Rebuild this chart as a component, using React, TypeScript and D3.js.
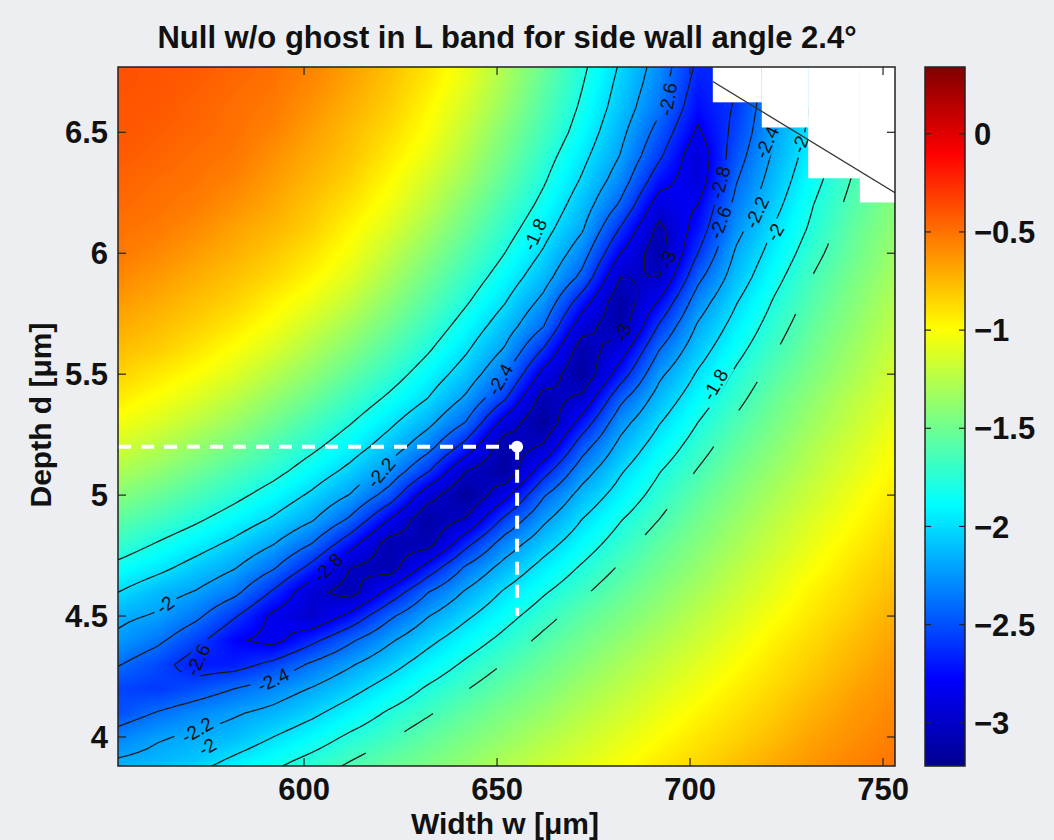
import React, { useMemo } from "react";
import * as d3 from "d3";

// ---------------- axes ----------------
const xDomain = [551.8, 753.1];
const yDomain = [3.88, 6.77];
const xTicks = [600, 650, 700, 750];
const yTicks = [4, 4.5, 5, 5.5, 6, 6.5];
const colorDomain = [-3.22, 0.34];
const colorTicks = [0, -0.5, -1, -1.5, -2, -2.5, -3];
const contourLevels = [-3, -2.8, -2.6, -2.4, -2.2, -2.0, -1.8];
const dashedLevel = -1.65;

// ---------------- data grid (null depth, log scale) ----------------
const widthValues = [552, 562, 572, 582, 592, 602, 612, 622, 632, 642, 652, 662, 672, 682, 692, 702, 712, 722, 732, 742, 752];
const depthValues = [6.8, 6.7, 6.6, 6.5, 6.4, 6.3, 6.2, 6.1, 6.0, 5.9, 5.8, 5.7, 5.6, 5.5, 5.4, 5.3, 5.2, 5.1, 5.0, 4.9, 4.8, 4.7, 4.6, 4.5, 4.4, 4.3, 4.2, 4.1, 4.0, 3.9, 3.8];
const nullGrid = [
  [-0.39, -0.40, -0.41, -0.45, -0.49, -0.55, -0.65, -0.76, -0.89, -1.05, -1.27, -1.51, -1.75, -2.01, -2.27, -2.62, -2.66, -2.28, -2.04, -1.79, -1.58],
  [-0.39, -0.40, -0.43, -0.47, -0.51, -0.58, -0.68, -0.79, -0.92, -1.09, -1.31, -1.55, -1.79, -2.05, -2.31, -2.68, -2.61, -2.25, -2.00, -1.76, -1.55],
  [-0.40, -0.41, -0.45, -0.49, -0.53, -0.62, -0.72, -0.82, -0.97, -1.15, -1.36, -1.60, -1.83, -2.09, -2.37, -2.74, -2.58, -2.23, -1.97, -1.73, -1.53],
  [-0.40, -0.43, -0.46, -0.50, -0.56, -0.66, -0.76, -0.87, -1.01, -1.21, -1.43, -1.65, -1.88, -2.15, -2.47, -2.83, -2.54, -2.20, -1.94, -1.70, -1.51],
  [-0.42, -0.45, -0.49, -0.52, -0.61, -0.70, -0.79, -0.92, -1.07, -1.27, -1.49, -1.72, -1.95, -2.21, -2.57, -2.94, -2.48, -2.16, -1.90, -1.68, -1.49],
  [-0.45, -0.48, -0.51, -0.56, -0.65, -0.74, -0.84, -0.98, -1.15, -1.34, -1.56, -1.78, -2.02, -2.30, -2.72, -2.92, -2.41, -2.11, -1.85, -1.64, -1.46],
  [-0.47, -0.50, -0.54, -0.61, -0.69, -0.79, -0.90, -1.04, -1.22, -1.43, -1.64, -1.85, -2.10, -2.43, -2.90, -2.80, -2.34, -2.05, -1.80, -1.60, -1.43],
  [-0.50, -0.53, -0.59, -0.67, -0.74, -0.83, -0.97, -1.12, -1.31, -1.51, -1.72, -1.93, -2.18, -2.62, -3.05, -2.72, -2.26, -1.98, -1.76, -1.55, -1.40],
  [-0.52, -0.58, -0.65, -0.72, -0.80, -0.90, -1.03, -1.21, -1.40, -1.60, -1.80, -2.02, -2.31, -2.80, -3.12, -2.60, -2.17, -1.92, -1.70, -1.52, -1.36],
  [-0.58, -0.64, -0.71, -0.78, -0.86, -0.97, -1.11, -1.30, -1.49, -1.69, -1.89, -2.12, -2.45, -3.00, -3.00, -2.45, -2.10, -1.85, -1.64, -1.47, -1.32],
  [-0.64, -0.70, -0.77, -0.84, -0.95, -1.06, -1.21, -1.39, -1.58, -1.78, -1.99, -2.25, -2.70, -3.14, -2.78, -2.30, -2.01, -1.78, -1.59, -1.43, -1.28],
  [-0.70, -0.76, -0.83, -0.92, -1.03, -1.17, -1.32, -1.49, -1.68, -1.88, -2.10, -2.39, -2.92, -3.12, -2.58, -2.18, -1.93, -1.72, -1.54, -1.39, -1.24],
  [-0.77, -0.82, -0.91, -1.01, -1.13, -1.28, -1.43, -1.60, -1.78, -1.98, -2.22, -2.62, -3.10, -2.90, -2.40, -2.08, -1.85, -1.66, -1.49, -1.34, -1.20],
  [-0.84, -0.92, -1.00, -1.11, -1.25, -1.39, -1.55, -1.71, -1.89, -2.09, -2.37, -2.86, -3.16, -2.70, -2.24, -1.98, -1.77, -1.59, -1.44, -1.30, -1.16],
  [-0.93, -1.01, -1.11, -1.23, -1.37, -1.51, -1.67, -1.83, -2.00, -2.23, -2.58, -3.08, -2.96, -2.45, -2.12, -1.89, -1.70, -1.52, -1.38, -1.24, -1.12],
  [-1.03, -1.12, -1.23, -1.35, -1.49, -1.64, -1.79, -1.96, -2.15, -2.41, -2.88, -3.17, -2.72, -2.27, -2.01, -1.80, -1.62, -1.47, -1.33, -1.20, -1.07],
  [-1.15, -1.25, -1.36, -1.48, -1.62, -1.76, -1.91, -2.09, -2.33, -2.68, -3.12, -2.97, -2.48, -2.14, -1.91, -1.72, -1.55, -1.41, -1.27, -1.15, -1.02],
  [-1.28, -1.38, -1.50, -1.62, -1.74, -1.89, -2.05, -2.26, -2.58, -3.00, -3.16, -2.68, -2.29, -2.02, -1.81, -1.64, -1.48, -1.35, -1.22, -1.10, -0.98],
  [-1.42, -1.52, -1.63, -1.75, -1.88, -2.03, -2.21, -2.48, -2.92, -3.18, -2.86, -2.42, -2.13, -1.92, -1.73, -1.56, -1.42, -1.29, -1.17, -1.05, -0.93],
  [-1.56, -1.66, -1.77, -1.89, -2.02, -2.18, -2.43, -2.80, -3.14, -2.98, -2.56, -2.24, -2.00, -1.81, -1.65, -1.49, -1.36, -1.23, -1.11, -1.00, -0.89],
  [-1.70, -1.81, -1.92, -2.04, -2.19, -2.40, -2.72, -3.08, -3.08, -2.66, -2.31, -2.08, -1.89, -1.72, -1.56, -1.43, -1.30, -1.18, -1.06, -0.95, -0.85],
  [-1.85, -1.95, -2.07, -2.19, -2.38, -2.66, -3.00, -3.10, -2.72, -2.37, -2.13, -1.94, -1.78, -1.63, -1.49, -1.37, -1.24, -1.12, -1.01, -0.90, -0.81],
  [-2.00, -2.12, -2.21, -2.35, -2.62, -2.94, -3.08, -2.74, -2.41, -2.18, -1.98, -1.82, -1.68, -1.54, -1.42, -1.30, -1.18, -1.07, -0.95, -0.86, -0.77],
  [-2.16, -2.22, -2.36, -2.58, -2.84, -2.98, -2.74, -2.44, -2.21, -2.03, -1.86, -1.71, -1.57, -1.46, -1.35, -1.23, -1.12, -1.01, -0.91, -0.82, -0.72],
  [-2.24, -2.36, -2.54, -2.77, -2.86, -2.65, -2.43, -2.23, -2.05, -1.89, -1.75, -1.61, -1.49, -1.38, -1.27, -1.17, -1.06, -0.95, -0.86, -0.77, -0.68],
  [-2.39, -2.52, -2.70, -2.68, -2.55, -2.37, -2.22, -2.07, -1.91, -1.77, -1.64, -1.52, -1.41, -1.30, -1.20, -1.10, -1.00, -0.90, -0.82, -0.73, -0.64],
  [-2.54, -2.58, -2.50, -2.40, -2.30, -2.19, -2.06, -1.92, -1.78, -1.66, -1.54, -1.44, -1.33, -1.23, -1.13, -1.04, -0.94, -0.86, -0.77, -0.68, -0.61],
  [-2.50, -2.39, -2.30, -2.22, -2.15, -2.04, -1.91, -1.78, -1.67, -1.55, -1.45, -1.36, -1.25, -1.16, -1.06, -0.97, -0.89, -0.81, -0.72, -0.64, -0.58],
  [-2.32, -2.22, -2.17, -2.12, -2.00, -1.89, -1.77, -1.67, -1.56, -1.46, -1.37, -1.27, -1.18, -1.09, -1.00, -0.91, -0.84, -0.76, -0.67, -0.61, -0.55],
  [-2.18, -2.14, -2.08, -1.96, -1.85, -1.75, -1.65, -1.55, -1.47, -1.38, -1.28, -1.19, -1.11, -1.02, -0.93, -0.86, -0.78, -0.70, -0.63, -0.57, -0.52],
  [-2.12, -2.02, -1.91, -1.82, -1.72, -1.63, -1.54, -1.46, -1.38, -1.29, -1.21, -1.12, -1.04, -0.95, -0.88, -0.80, -0.73, -0.65, -0.60, -0.54, -0.49],
];

// missing-data (blank) region at top right and limit line
const blankEdgesW = [705.9, 718.6, 730.6, 744.0, 753.1];
const blankBottomD = [6.624, 6.52, 6.31, 6.21];
const limitLineW = [705.9, 753.1];
const limitLineD = [6.71, 6.25];

// marked optimum
const optimumW = 655.2;
const optimumD = 5.2;
const optimumDropTo = 4.5;

// inline contour labels
const labelText = ["-1.8", "-2.6", "-2.4", "-2", "-2.8", "-2.6", "-2.2", "-2", "-2.4", "-1.8", "-2.2", "-2.8", "-2", "-2.6", "-2.4", "-2.2", "-2", "-3", "-3"];
const labelW = [659.8, 694.3, 719.9, 728.5, 707.8, 707.8, 717.3, 722.0, 650.8, 706.5, 619.9, 606.2, 564.0, 572.5, 592.0, 572.3, 574.9, 694.3, 682.6];
const labelD = [6.078, 6.637, 6.459, 6.45, 6.293, 6.127, 6.169, 6.086, 5.478, 5.457, 5.093, 4.70, 4.546, 4.319, 4.236, 4.029, 3.959, 5.974, 5.672];
const labelAngle = [-65, -80, -65, -70, -75, -70, -65, -60, -60, -60, -50, -45, -35, -65, -25, -30, -30, -70, -70];

const M = { left: 118, right: 895, top: 67, bottom: 766 };
const CB = { left: 925, right: 965 };
const FONT = "'Liberation Sans', Arial, Helvetica, sans-serif";
const BG = "#eceef2";

function jet(c: number[]) {
  const stops = [0, 0.125, 0.375, 0.625, 0.875, 1];
  const cols = ["#000090", "#0000ff", "#00ffff", "#ffff00", "#ff0000", "#800000"];
  return d3
    .scaleLinear<string>()
    .domain(stops.map((s) => c[0] + s * (c[1] - c[0])))
    .range(cols)
    .interpolate(d3.interpolateRgb)
    .clamp(true);
}

export default function App() {
  const x = d3.scaleLinear().domain(xDomain).range([M.left, M.right]);
  const y = d3.scaleLinear().domain(yDomain).range([M.bottom, M.top]);
  const yc = d3.scaleLinear().domain(colorDomain).range([M.bottom, M.top]);
  const color = jet(colorDomain);

  const nW = widthValues.length, nD = depthValues.length;
  const stepW = widthValues[1] - widthValues[0];
  const stepD = depthValues[0] - depthValues[1];
  const sample = (w: number, d: number) => {
    let fi = (w - widthValues[0]) / stepW;
    let fj = (depthValues[0] - d) / stepD;
    fi = Math.max(0, Math.min(nW - 1.0001, fi));
    fj = Math.max(0, Math.min(nD - 1.0001, fj));
    const i = Math.floor(fi), j = Math.floor(fj);
    const a = fi - i, b = fj - j;
    return (
      nullGrid[j][i] * (1 - a) * (1 - b) +
      nullGrid[j][i + 1] * a * (1 - b) +
      nullGrid[j + 1][i] * (1 - a) * b +
      nullGrid[j + 1][i + 1] * a * b
    );
  };

  const heat = useMemo(() => {
    const W = M.right - M.left, H = M.bottom - M.top;
    const cv = document.createElement("canvas");
    cv.width = W;
    cv.height = H;
    const ctx = cv.getContext("2d")!;
    const img = ctx.createImageData(W, H);
    const lut: number[][] = [];
    for (let k = 0; k < 512; k++) {
      const c = d3.rgb(color(colorDomain[0] + (k / 511) * (colorDomain[1] - colorDomain[0])));
      lut.push([c.r, c.g, c.b]);
    }
    for (let py = 0; py < H; py++) {
      const d = y.invert(M.top + py + 0.5);
      for (let px = 0; px < W; px++) {
        const w = x.invert(M.left + px + 0.5);
        const v = sample(w, d);
        let k = Math.round(((v - colorDomain[0]) / (colorDomain[1] - colorDomain[0])) * 511);
        k = Math.max(0, Math.min(511, k));
        const o = (py * W + px) * 4;
        img.data[o] = lut[k][0];
        img.data[o + 1] = lut[k][1];
        img.data[o + 2] = lut[k][2];
        img.data[o + 3] = 255;
      }
    }
    ctx.putImageData(img, 0, 0);
    return cv.toDataURL();
  }, []);

  const contourPaths = useMemo(() => {
    const f = 4;
    const dw = stepW / f, dd = stepD / f;
    const nx = (nW - 1) * f + 1, ny = (nD - 1) * f + 1;
    const values = new Array(nx * ny);
    for (let j = 0; j < ny; j++)
      for (let i = 0; i < nx; i++) values[j * nx + i] = sample(widthValues[0] + i * dw, depthValues[0] - j * dd);
    const toPx = (cx: number, cy: number) => [x(widthValues[0] + (cx - 0.5) * dw), y(depthValues[0] - (cy - 0.5) * dd)];
    const proj = d3.geoTransform({
      point(cx: number, cy: number) {
        const p = toPx(cx, cy);
        (this as any).stream.point(p[0], p[1]);
      },
    });
    const path = d3.geoPath(proj);
    const gen = d3.contours().size([nx, ny]);
    const solid = contourLevels.map((lv) => path(gen.contour(values, lv) as any) || "");
    const dc = gen.contour(values, dashedLevel) as any;
    // keep only the lower-right branch of the dashed contour
    const polys = dc.coordinates.filter((poly: number[][][]) => {
      const ring = poly[0];
      const mx = d3.mean(ring, (p) => toPx(p[0], p[1])[0]) || 0;
      return mx > 500;
    });
    const dashed = path({ type: "MultiPolygon", coordinates: polys } as any) || "";
    return { solid, dashed };
  }, []);

  const gradStops = d3.range(0, 1.0001, 1 / 64).map((t) => ({ t, c: color(colorDomain[0] + t * (colorDomain[1] - colorDomain[0])) }));
  const labelBoxW = (s: string) => s.length * 10 + 6;

  return (
    <svg width={1054} height={840} style={{ position: "absolute", left: 0, top: 0, background: BG }} fontFamily={FONT}>
      <defs>
        <clipPath id="plotClip">
          <rect x={M.left} y={M.top} width={M.right - M.left} height={M.bottom - M.top} />
        </clipPath>
        <mask id="labelMask" maskUnits="userSpaceOnUse" x={0} y={0} width={1054} height={840}>
          <rect x={0} y={0} width={1054} height={840} fill="white" />
          {labelText.map((t, i) => (
            <rect
              key={i}
              x={-labelBoxW(t) / 2}
              y={-9}
              width={labelBoxW(t)}
              height={18}
              fill="black"
              transform={`translate(${x(labelW[i])},${y(labelD[i])}) rotate(${labelAngle[i]})`}
            />
          ))}
        </mask>
        <linearGradient id="cbGrad" x1="0" y1="1" x2="0" y2="0">
          {gradStops.map((s, i) => (
            <stop key={i} offset={s.t} stopColor={s.c} />
          ))}
        </linearGradient>
      </defs>
      <rect x={0} y={0} width={1054} height={840} fill={BG} />
      <text x={507} y={48} textAnchor="middle" fontSize={31} fontWeight="bold" fill="#111">
        Null w/o ghost in L band for side wall angle 2.4°
      </text>

      <g clipPath="url(#plotClip)">
        <image href={heat} x={M.left} y={M.top} width={M.right - M.left} height={M.bottom - M.top} preserveAspectRatio="none" />
        <g mask="url(#labelMask)" fill="none" stroke="#1a1a1a" strokeWidth={1.25}>
          {contourPaths.solid.map((p, i) => (
            <path key={i} d={p} />
          ))}
          <path d={contourPaths.dashed} strokeDasharray="34 44" />
        </g>
        {labelText.map((t, i) => (
          <text
            key={i}
            transform={`translate(${x(labelW[i])},${y(labelD[i])}) rotate(${labelAngle[i]})`}
            textAnchor="middle"
            dy="0.35em"
            fontSize={19}
            fill="#111"
          >
            {t}
          </text>
        ))}
        {blankBottomD.map((d, i) => (
          <rect key={i} x={x(blankEdgesW[i])} y={M.top} width={x(blankEdgesW[i + 1]) - x(blankEdgesW[i])} height={y(d) - M.top} fill="#ffffff" />
        ))}
        <line x1={x(limitLineW[0])} y1={y(limitLineD[0])} x2={x(limitLineW[1])} y2={y(limitLineD[1])} stroke="#333" strokeWidth={1.3} />
        <line x1={M.left} y1={y(optimumD)} x2={x(optimumW)} y2={y(optimumD)} stroke="#fff" strokeWidth={4} strokeDasharray="13 10" />
        <line x1={x(optimumW)} y1={y(optimumD)} x2={x(optimumW)} y2={y(optimumDropTo)} stroke="#fff" strokeWidth={4} strokeDasharray="13 10" />
        <circle cx={x(optimumW)} cy={y(optimumD)} r={6} fill="#fff" />
      </g>

      <rect x={M.left} y={M.top} width={M.right - M.left} height={M.bottom - M.top} fill="none" stroke="#222" strokeWidth={1.5} />
      {xTicks.map((t) => (
        <g key={t}>
          <line x1={x(t)} x2={x(t)} y1={M.bottom} y2={M.bottom - 8} stroke="#222" strokeWidth={1.2} />
          <line x1={x(t)} x2={x(t)} y1={M.top} y2={M.top + 8} stroke="#222" strokeWidth={1.2} />
          <text x={x(t)} y={800} textAnchor="middle" fontSize={31} fontWeight="bold" fill="#111">
            {t}
          </text>
        </g>
      ))}
      {yTicks.map((t) => (
        <g key={t}>
          <line x1={M.left} x2={M.left + 8} y1={y(t)} y2={y(t)} stroke="#222" strokeWidth={1.2} />
          <line x1={M.right} x2={M.right - 8} y1={y(t)} y2={y(t)} stroke="#222" strokeWidth={1.2} />
          <text x={108} y={y(t)} dy="0.36em" textAnchor="end" fontSize={31} fontWeight="bold" fill="#111">
            {t}
          </text>
        </g>
      ))}
      <text x={505} y={834} textAnchor="middle" fontSize={30} fontWeight="bold" fill="#111">
        Width w [μm]
      </text>
      <text transform="translate(51,415) rotate(-90)" textAnchor="middle" fontSize={30} fontWeight="bold" fill="#111">
        Depth d [μm]
      </text>

      <rect x={CB.left} y={M.top} width={CB.right - CB.left} height={M.bottom - M.top} fill="url(#cbGrad)" stroke="#222" strokeWidth={1.5} />
      {colorTicks.map((t) => (
        <g key={t}>
          <line x1={CB.left} x2={CB.left + 6} y1={yc(t)} y2={yc(t)} stroke="#222" strokeWidth={1.2} />
          <line x1={CB.right} x2={CB.right - 6} y1={yc(t)} y2={yc(t)} stroke="#222" strokeWidth={1.2} />
          <text x={974} y={yc(t)} dy="0.36em" fontSize={31} fontWeight="bold" fill="#111">
            {t === 0 ? "0" : "\u2212" + Math.abs(t)}
          </text>
        </g>
      ))}
    </svg>
  );
}
